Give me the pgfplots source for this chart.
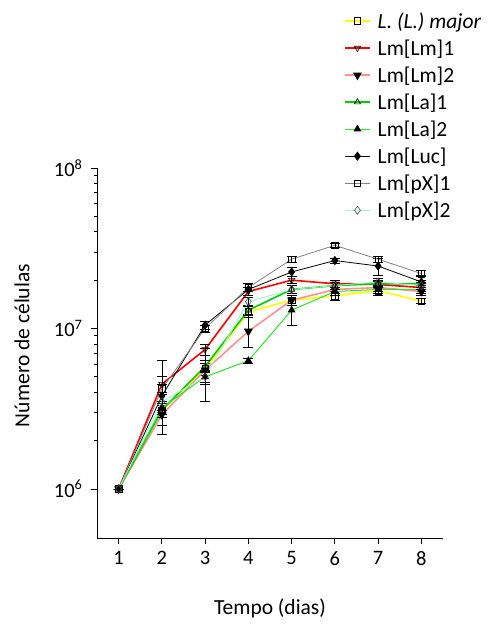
\documentclass[border=0pt]{standalone}
\usepackage{pgfplots}
\pgfplotsset{compat=1.18}
\usepackage{fontspec}
\setmainfont{Carlito}
\definecolor{cyel}{RGB}{255,255,0}
\definecolor{cred}{RGB}{255,0,0}
\definecolor{cpink}{RGB}{255,145,145}
\definecolor{cgreen}{RGB}{0,205,0}
\definecolor{clgreen}{RGB}{40,230,40}
\definecolor{cgray}{RGB}{130,130,130}
\definecolor{ccyan}{RGB}{160,240,215}
\begin{document}
\begin{tikzpicture}
\useasboundingbox (-97pt,-86pt) rectangle (399pt,538pt);
\begin{axis}[
  scale only axis,
  width=346pt, height=370pt,
  ymode=log,
  xmin=0.5, xmax=8.5,
  ymin=4.95e5, ymax=1e8,
  axis x line*=bottom, axis y line*=left,
  axis line style={-, line width=0.8pt},
  tick align=outside,
  xtick={1,2,3,4,5,6,7,8},
  xticklabels={1,2,3,4,5,6,7,8},
  ytick={1e6,1e7,1e8},
  yticklabels={10\textsuperscript{6},10\textsuperscript{7},10\textsuperscript{8}},
  minor ytick={},
  major tick length=6pt,
  tick style={line width=0.8pt, black},
  ticklabel style={font=\fontsize{20.5}{22}\selectfont},
  xticklabel style={yshift=-4pt},
  yticklabel style={xshift=-5pt},
  xlabel={Tempo (dias)},
  ylabel={Número de células},
  label style={font=\fontsize{21.5}{23}\selectfont},
  xlabel style={at={(axis description cs:0.5,-0.189)}, anchor=center},
  ylabel style={at={(axis description cs:-0.217,0.52)}, anchor=center},
  legend style={at={(axis description cs:0.705,1.432)}, anchor=north west,
    draw=none, fill=none, font=\fontsize{21.5}{23}\selectfont, row sep=6pt},
  legend cell align=left,
  legend image code/.code={\draw[mark repeat=2,mark phase=2,#1] plot coordinates {(0pt,0pt) (12.5pt,0pt) (25pt,0pt)};},
  error bars/y dir=both, error bars/y explicit,
  error bars/error bar style={black, line width=0.7pt},
  error bars/error mark options={rotate=90, mark size=5pt, black, line width=0.7pt},
]
% L. (L.) major
\addplot[cyel, line width=1.6pt, mark=square, mark size=3.3pt, mark options={draw=black, fill=white, line width=0.6pt}]
 coordinates {(1,1e6) +- (0,0) (2,3.1e6) +- (0,0.3e6) (3,5.6e6) +- (0,0.5e6) (4,1.27e7) +- (0,0.1e7) (5,1.5e7) +- (0,0.1e7) (6,1.6e7) +- (0,0.1e7) (7,1.72e7) +- (0,0.1e7) (8,1.48e7) +- (0,0.05e7)};
\addlegendentry{\hspace{5pt}\textit{L. (L.) major}}
% Lm[Lm]1
\addplot[cred, line width=1.6pt, mark=triangle, mark size=3.6pt, mark options={draw=black, fill=white, rotate=180, line width=0.6pt}]
 coordinates {(1,1e6) +- (0,0) (2,4.5e6) +- (0,0.5e6) (3,7.4e6) +- (0,0.6e6) (4,1.7e7) +- (0,0.1e7) (5,2.0e7) +- (0,0.1e7) (6,1.9e7) +- (0,0.1e7) (7,1.88e7) +- (0,0.1e7) (8,1.8e7) +- (0,0.1e7)};
\addlegendentry{\hspace{5pt}Lm[Lm]1}
% Lm[Lm]2
\addplot[cpink, line width=1.6pt, mark=triangle*, mark size=3.6pt, mark options={draw=black, fill=black, rotate=180}]
 coordinates {(1,1e6) +- (0,0) (2,2.9e6) +- (0,0.4e6) (3,5.5e6) += (0,2.0e6) -= (0,2.0e6) (4,9.6e6) += (0,2.6e6) -= (0,2.0e6) (5,1.5e7) +- (0,0.1e7) (6,1.75e7) +- (0,0.1e7) (7,1.8e7) +- (0,0.1e7) (8,1.7e7) +- (0,0.1e7)};
\addlegendentry{\hspace{5pt}Lm[Lm]2}
% Lm[La]1
\addplot[cgreen, line width=1.6pt, mark=triangle, mark size=3.6pt, mark options={draw=black, fill=white, line width=0.6pt}]
 coordinates {(1,1e6) +- (0,0) (2,3.1e6) +- (0,0.3e6) (3,5.8e6) +- (0,0.5e6) (4,1.3e7) +- (0,0.1e7) (5,1.75e7) +- (0,0.1e7) (6,1.85e7) +- (0,0.1e7) (7,1.9e7) +- (0,0.1e7) (8,1.9e7) +- (0,0.1e7)};
\addlegendentry{\hspace{5pt}Lm[La]1}
% Lm[La]2
\addplot[clgreen, line width=1pt, mark=triangle*, mark size=3.6pt, mark options={draw=black, fill=black}]
 coordinates {(1,1e6) +- (0,0) (2,3.2e6) +- (0,0.3e6) (3,5.0e6) +- (0,0.4e6) (4,6.3e6) +- (0,0.2e6) (5,1.3e7) += (0,0.3e7) -= (0,0.25e7) (6,1.7e7) +- (0,0.1e7) (7,1.75e7) +- (0,0.1e7) (8,1.75e7) +- (0,0.1e7)};
\addlegendentry{\hspace{5pt}Lm[La]2}
% Lm[Luc]
\addplot[black, line width=0.8pt, mark=diamond*, mark size=4pt, mark options={draw=black, fill=black}]
 coordinates {(1,1e6) +- (0,0) (2,3.8e6) += (0,2.5e6) -= (0,1.6e6) (3,1.05e7) +- (0,0.06e7) (4,1.75e7) +- (0,0.15e7) (5,2.25e7) +- (0,0.15e7) (6,2.65e7) +- (0,0.1e7) (7,2.45e7) +- (0,0.3e7) (8,1.95e7) +- (0,0.2e7)};
\addlegendentry{\hspace{5pt}Lm[Luc]}
% Lm[pX]1
\addplot[cgray, line width=0.8pt, mark=square, mark size=3.3pt, mark options={draw=black, fill=white, line width=0.6pt}]
 coordinates {(1,1e6) +- (0,0) (2,4.2e6) +- (0,0.3e6) (3,1.0e7) +- (0,0.05e7) (4,1.8e7) +- (0,0.1e7) (5,2.7e7) +- (0,0.1e7) (6,3.3e7) +- (0,0.1e7) (7,2.7e7) +- (0,0.1e7) (8,2.2e7) +- (0,0.1e7)};
\addlegendentry{\hspace{5pt}Lm[pX]1}
% Lm[pX]2
\addplot[ccyan, line width=0.9pt, mark=diamond, mark size=4pt, mark options={draw=black!70, fill=white, line width=0.6pt}]
 coordinates {(1,1e6) +- (0,0) (2,3.5e6) +- (0,0.4e6) (3,5.0e6) +- (0,0.5e6) (4,1.47e7) +- (0,0.1e7) (5,1.75e7) +- (0,0.1e7) (6,1.85e7) +- (0,0.1e7) (7,1.95e7) +- (0,0.1e7) (8,1.85e7) +- (0,0.1e7)};
\addlegendentry{\hspace{5pt}Lm[pX]2}
\end{axis}
\end{tikzpicture}
\end{document}
